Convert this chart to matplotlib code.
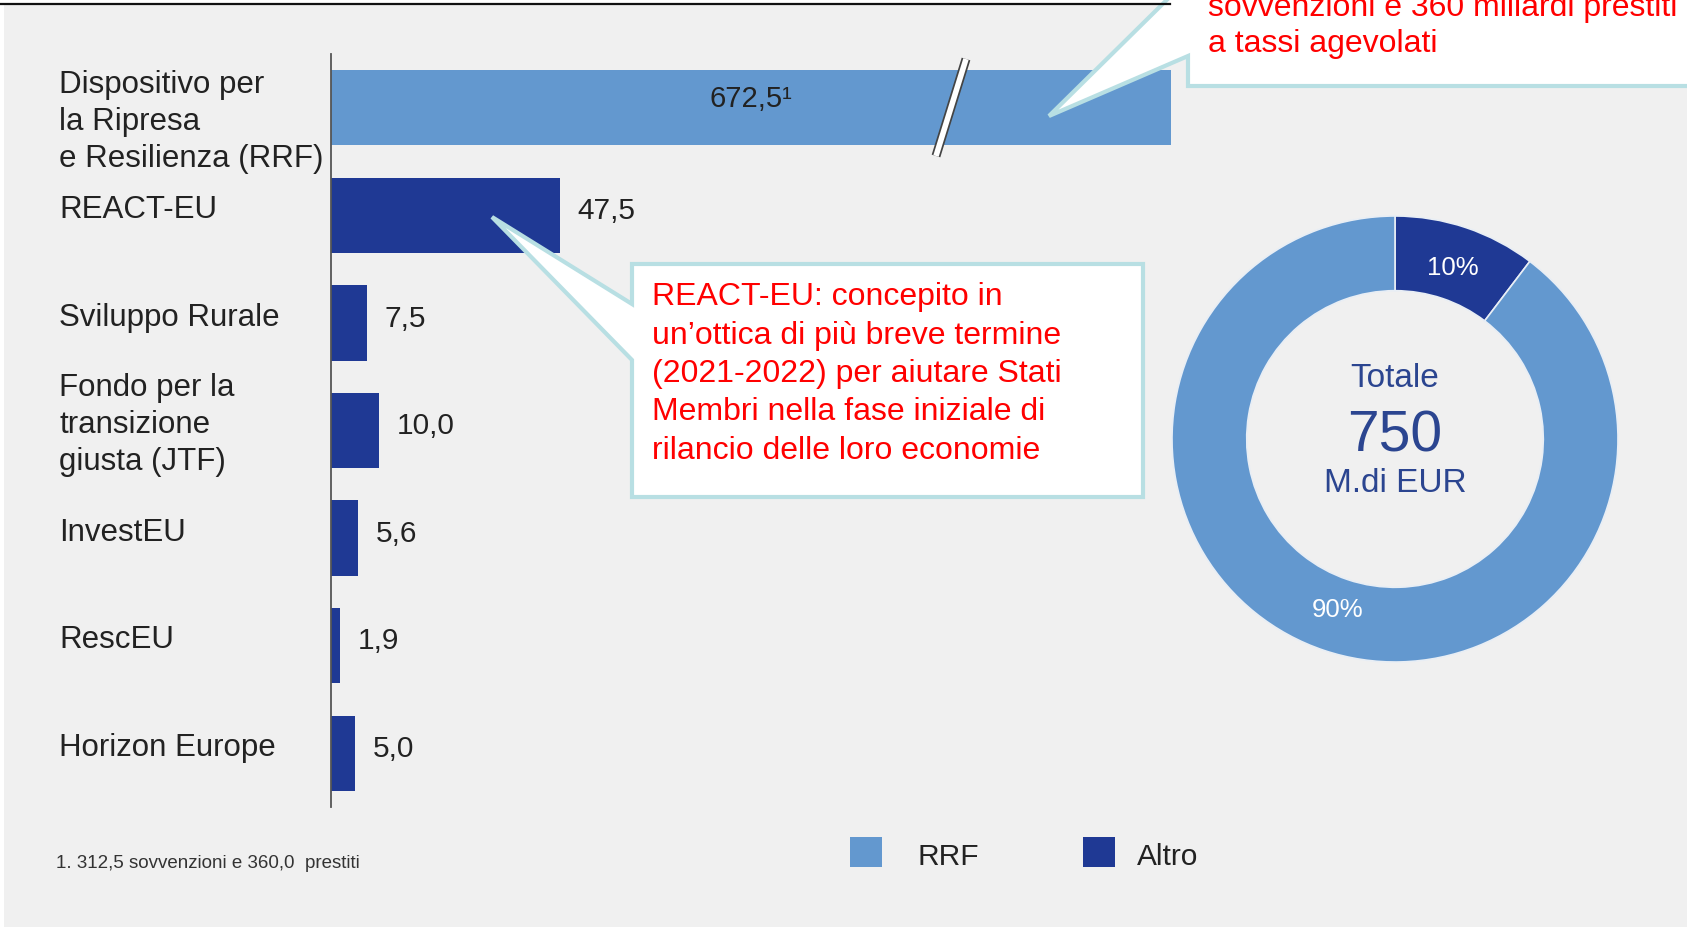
import numpy as np
import matplotlib
matplotlib.use('Agg')
import matplotlib.pyplot as plt
from matplotlib.patches import Polygon, Rectangle
from matplotlib.transforms import blended_transform_factory
import matplotlib.patheffects as pe

plt.rcParams['font.family'] = ['Liberation Sans', 'DejaVu Sans']

# dati (miliardi di EUR)
categories = ['Dispositivo per\nla Ripresa\ne Resilienza (RRF)', 'REACT-EU', 'Sviluppo Rurale',
              'Fondo per la\ntransizione\ngiusta (JTF)', 'InvestEU', 'RescEU', 'Horizon Europe']
values = [672.5, 47.5, 7.5, 10.0, 5.6, 1.9, 5.0]
groups = ['RRF', 'Altro', 'Altro', 'Altro', 'Altro', 'Altro', 'Altro']
footnote = '1. 312,5 sovvenzioni e 360,0  prestiti'
callout_react = ("REACT-EU: concepito in\nun\u2019ottica di più breve termine\n(2021-2022) per aiutare Stati\n"
                 "Membri nella fase iniziale di\nrilancio delle loro economie")
callout_rrf = "sovvenzioni e 360 miliardi prestiti\na tassi agevolati"

C_RRF = '#6398CF'
C_ALTRO = '#1F3994'
BG = '#F0F0F0'
BORDER = '#B8DFE3'
colors = {'RRF': C_RRF, 'Altro': C_ALTRO}

W, H = 1687, 927
fig = plt.figure(figsize=(W / 100, H / 100), dpi=100, facecolor=BG)

def fx(px):
    return px / W

def fy(py):
    return 1 - py / H

# --- grafico a barre (asse interrotto per RRF) ---
x_max = 174.0  # unità visibili prima dell'interruzione
ax = fig.add_axes([fx(331), fy(807), fx(840), (807 - 54) / H])
ax.set_facecolor('none')
ypos = np.arange(len(values))
shown = np.minimum(values, x_max)
ax.barh(ypos, shown, height=0.7, color=[colors[g] for g in groups], zorder=2)
ax.set_xlim(0, x_max)
ax.set_ylim(len(values) - 0.5, -0.5)
for s in ['top', 'right', 'bottom']:
    ax.spines[s].set_visible(False)
ax.spines['left'].set_color('#555555')
ax.spines['left'].set_linewidth(1.3)
ax.set_xticks([])
ax.set_yticks([])

lab_tr = blended_transform_factory(ax.transAxes, ax.transData)
for i, (cat, v) in enumerate(zip(categories, values)):
    dy = 0.13 if i == 0 else -0.05  # la prima etichetta sta un po' più in basso
    ax.text((59 - 331) / 840, i + dy, cat, transform=lab_tr, ha='left', va='center',
            fontsize=22.5, color='#222222', linespacing=1.31)
    txt = f'{v:.1f}'.replace('.', ',')
    if v > x_max:
        ax.text(x_max / 2, i - 0.08, txt + '\u00b9', ha='center', va='center', fontsize=21, color='#222222')
    else:
        ax.text(v + 3.6, i - 0.04, txt, ha='left', va='center', fontsize=21.5, color='#222222')

# --- ciambella ---
altro_tot = sum(v for v, g in zip(values, groups) if g == 'Altro')
rrf_tot = sum(v for v, g in zip(values, groups) if g == 'RRF')
total = altro_tot + rrf_tot
cx, cy, r = 1395, 439, 223
size = 2 * r * 1.03
axd = fig.add_axes([fx(cx - size / 2), fy(cy + size / 2), fx(size), size / H])
axd.set_facecolor('none')
wedges, texts, autotexts = axd.pie([altro_tot, rrf_tot], colors=[C_ALTRO, C_RRF], startangle=90,
                                   counterclock=False, radius=1,
                                   wedgeprops=dict(width=0.335, edgecolor='#E8EEF5', linewidth=1.2),
                                   autopct=lambda p: f'{p:.0f}%', pctdistance=0.81,
                                   textprops=dict(color='white', fontsize=18.5))
axd.set_xlim(-1.03, 1.03)
axd.set_ylim(-1.03, 1.03)
axd.set_aspect('equal')
axd.axis('off')
axd.text(0, 0.27, 'Totale', ha='center', va='center', fontsize=24, color='#2B4590')
axd.text(0, 0.01, f'{total:.0f}', ha='center', va='center', fontsize=41, color='#2B4590')
axd.text(0, -0.2, 'M.di EUR', ha='center', va='center', fontsize=24, color='#2B4590')

# --- sovrapposizione in pixel: riquadri, interruzione, legenda, nota ---
ov = fig.add_axes([0, 0, 1, 1])
ov.set_xlim(0, W)
ov.set_ylim(H, 0)
ov.axis('off')
ov.set_facecolor('none')

# striscia bianca e linea in alto
ov.add_patch(Rectangle((0, -5), W, 9, facecolor='white', edgecolor='none'))
ov.plot([0, 1170], [4, 4], color='#111111', lw=1.6)
ov.add_patch(Rectangle((0, 0), 4, H, facecolor='white', edgecolor='none'))

# segno di interruzione
ov.plot([966, 936], [59, 156], color='white', lw=4,
        path_effects=[pe.Stroke(linewidth=6.5, foreground='#444444'), pe.Normal()], solid_capstyle='butt')

# riquadro REACT-EU
ov.add_patch(Polygon([(632, 264), (1143, 264), (1143, 497), (632, 497), (632, 360),
                      (492, 217), (632, 304)], closed=True, facecolor='white',
                     edgecolor=BORDER, lw=3, joinstyle='miter'))
ov.text(652, 374, callout_react, ha='left', va='center', fontsize=23, color='#FF0000', linespacing=1.36)

# riquadro RRF (tagliato in alto)
ov.add_patch(Polygon([(1188, -40), (1720, -40), (1720, 86), (1188, 86), (1188, 56),
                      (1049, 116), (1188, -21)], closed=True, facecolor='white',
                     edgecolor=BORDER, lw=3, joinstyle='miter'))
ov.text(1208, 26, callout_rrf, ha='left', va='center', fontsize=23, color='#FF0000', linespacing=1.22)

# legenda
for x0, xt, name in [(850, 918, 'RRF'), (1083, 1137, 'Altro')]:
    ov.add_patch(Rectangle((x0, 837), 32, 30, facecolor=colors[name], edgecolor='none'))
    ov.text(xt, 857, name, ha='left', va='center', fontsize=21.5, color='#222222')

# nota
ov.text(56, 864, footnote, ha='left', va='center', fontsize=13.5, color='#333333')

fig.savefig('out.png', dpi=100, facecolor=BG)
